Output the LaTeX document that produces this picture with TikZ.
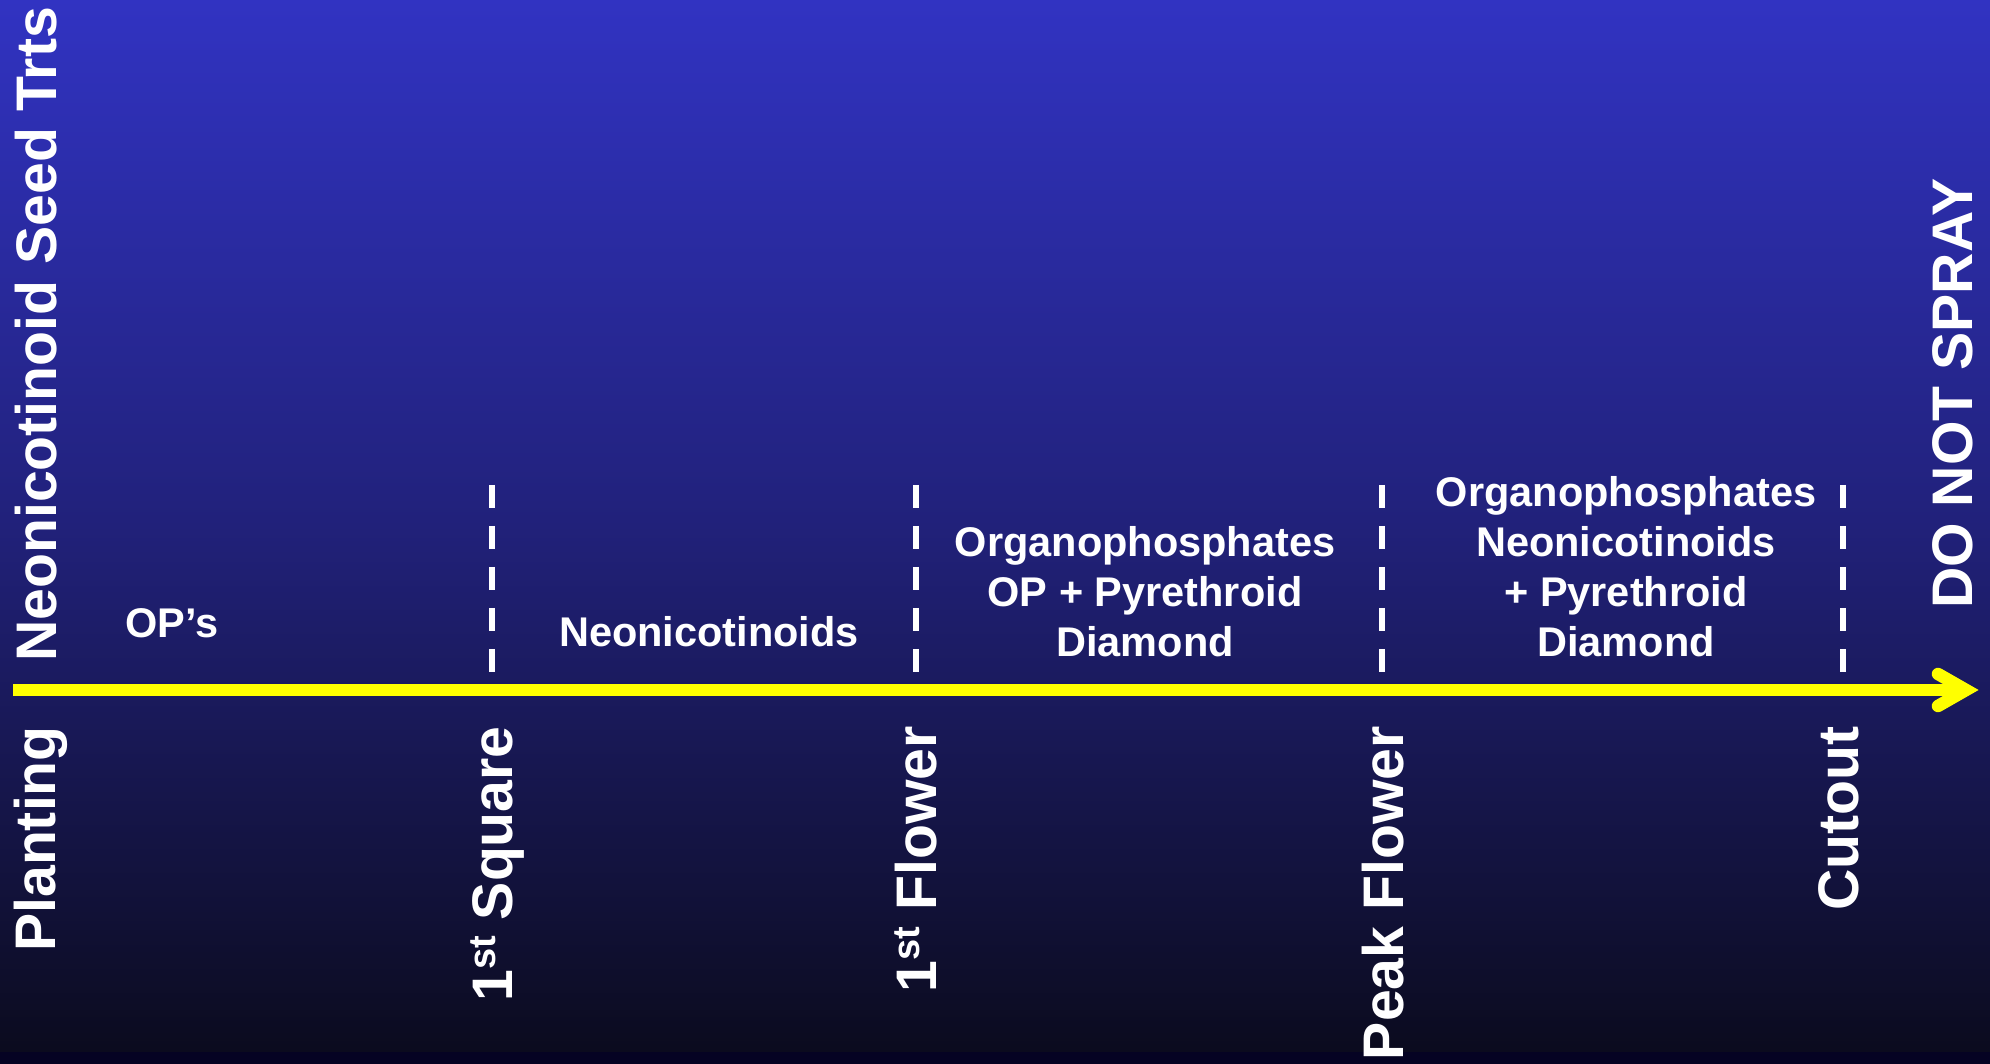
\documentclass[tikz,border=0pt]{standalone}
\usepackage{fontspec}
\setmainfont{Liberation Sans}
\definecolor{bgtop}{RGB}{49,51,194}
\definecolor{bgmid}{RGB}{33,33,122}
\definecolor{bgbot}{RGB}{11,11,30}
\definecolor{bgstrip}{RGB}{5,3,35}
\definecolor{axisyellow}{RGB}{255,255,0}
\newcommand\supst[1]{{\fontsize{38}{38}\selectfont\raisebox{17pt}{#1}}}
\begin{document}
\begin{tikzpicture}[x=1pt,y=1pt,
  lbl/.style={text=white, inner sep=0pt, font=\bfseries\fontsize{41.5}{50}\selectfont},
  vlbl/.style={text=white, inner sep=0pt, rotate=90, font=\bfseries\fontsize{57.2}{60}\selectfont},
  phase/.style={draw=white, line width=6pt, dash pattern=on 23pt off 18pt},
  axisline/.style={draw=axisyellow, line width=12.5pt},
  axishead/.style={draw=axisyellow, line width=12.5pt, line cap=round, line join=miter}]
\useasboundingbox (0,0) rectangle (1990,1064);
% background
\shade[top color=bgtop, bottom color=bgbot, middle color=bgmid] (0,12) rectangle (1990,1064);
\fill[bgstrip] (0,0) rectangle (1990,12);

% axis
\coordinate (axstart) at (13,374);
\coordinate (axend) at (1966,374);
\coordinate (headup) at (1938,390);
\coordinate (headdn) at (1938,358);
\draw[axisline] (axstart) -- (axend);
\draw[axishead] (headup) -- (axend) -- (headdn);

% phase separators
\foreach \n/\x in {sq/492, fl/916, pk/1382, co/1843}{
  \coordinate (\n top) at (\x,579);
  \coordinate (\n bot) at (\x,391);
  \draw[phase] (\n top) -- (\n bot);
}

% labels above the axis
\node[vlbl, anchor=base west] (seed) at (56,402) {Neonicotinoid Seed Trts};
\node[vlbl, anchor=base west] (dns) at (1972,455) {DO NOT SPRAY};

\node[lbl, anchor=base] (ops) at (172,426) {OP’s};
\node[lbl, anchor=base] (neo) at (709,417) {Neonicotinoids};

\node[lbl, anchor=base] (mA) at (1145,507) {Organophosphates};
\node[lbl, anchor=base] (mB) at (1145,457) {OP + Pyrethroid};
\node[lbl, anchor=base] (mC) at (1145,407) {Diamond};

\node[lbl, anchor=base] (rA) at (1626,557) {Organophosphates};
\node[lbl, anchor=base] (rB) at (1626,507) {Neonicotinoids};
\node[lbl, anchor=base] (rC) at (1626,457) {+ Pyrethroid};
\node[lbl, anchor=base] (rD) at (1626,407) {Diamond};

% stage labels below the axis
\node[vlbl, anchor=base east] (plant) at (55,338) {Planting};
\node[vlbl, anchor=base east] (square) at (512,338) {1\supst{st} Square};
\node[vlbl, anchor=base east] (flower) at (936,338) {1\supst{st} Flower};
\node[vlbl, anchor=base east] (peak) at (1403,338) {Peak Flower};
\node[vlbl, anchor=base east] (cut) at (1858,338) {Cutout};
\end{tikzpicture}
\end{document}
